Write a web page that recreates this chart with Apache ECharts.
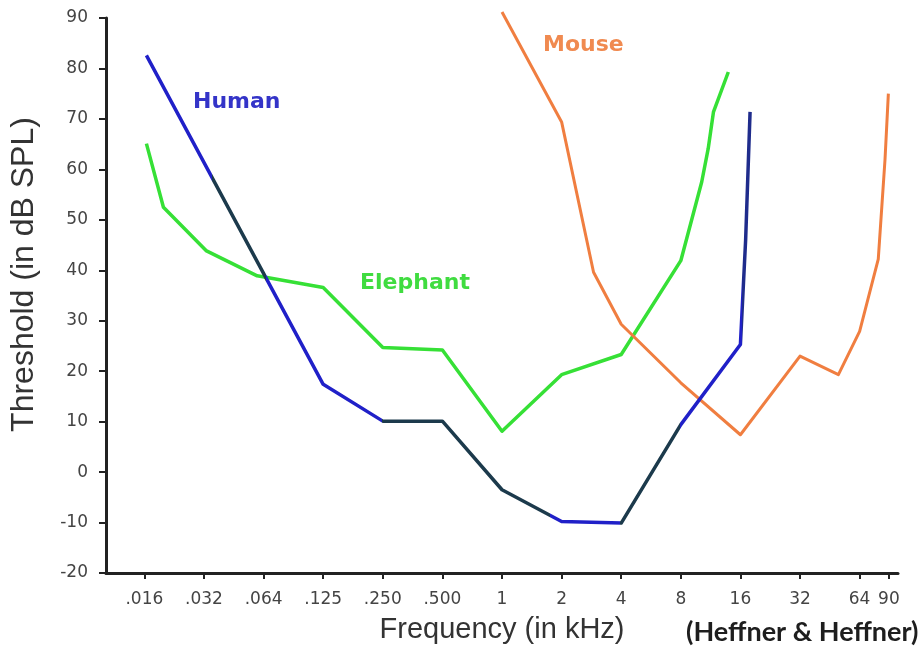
<!DOCTYPE html>
<html>
<head>
<meta charset="utf-8">
<script src="https://cdn.jsdelivr.net/npm/echarts@6/dist/echarts.min.js"></script>
<style>
  html, body { margin: 0; padding: 0; background: #fff; }
  #chart { width: 924px; height: 655px; }
</style>
</head>
<body>
<div id="chart"></div>
<script>
// frequency ticks (kHz) and their printed labels
const tickFreqs = [1 / 64, 1 / 32, 1 / 16, 1 / 8, 1 / 4, 1 / 2, 1, 2, 4, 8, 16, 32, 64, 90];
const tickLabels = ['.016', '.032', '.064', '.125', '.250', '.500', '1', '2', '4', '8', '16', '32', '64', '90'];

// audiograms: frequency in kHz, threshold in dB SPL
const humanFreq = [0.016, 0.125, 0.25, 0.5, 1, 2, 4, 8, 16, 17, 17.9];
const humanDb = [82.6, 17.4, 10.1, 10.1, -3.5, -9.8, -10.1, 9.4, 25.3, 46, 71.4];

const elephantFreq = [0.016, 0.0195, 0.032, 0.058, 0.125, 0.25, 0.5, 1, 2, 4, 8, 10.2, 11, 11.7, 13.9];
const elephantDb = [65.1, 52.5, 43.9, 38.9, 36.6, 24.7, 24.2, 8.1, 19.3, 23.3, 41.9, 57.5, 64.1, 71.4, 79.3];

const mouseFreq = [1, 2, 2.9, 4, 8, 16, 32, 50, 64, 79.5, 86, 89.4];
const mouseDb = [91.2, 69.4, 39.6, 29.3, 17.7, 7.4, 23, 19.3, 27.9, 42.2, 62, 75];

const toPoints = (freqs, dbs) => freqs.map((f, i) => [Math.log2(f), dbs[i]]);
const tickPos = tickFreqs.map((f) => Math.log2(f));

const axisColor = '#222';
const textColor = '#444';
const blue = '#2020c8';
const blueDark = '#1c3a4c';
const blueNavy = '#1f2c8c';
const green = '#36e036';
const orange = '#f07e40';

const chart = echarts.init(document.getElementById('chart'));

const option = {
  backgroundColor: '#fff',
  animation: false,
  grid: {
    left: 106,
    right: 26,
    top: 18,
    bottom: 82,
  },
  xAxis: {
    type: 'value',
    min: Math.log2(0.01),
    max: Math.log2(100),
    name: 'Frequency (in kHz)',
    nameLocation: 'middle',
    nameGap: 42,
    nameTextStyle: {
      color: '#333',
      fontSize: 29,
      fontFamily: 'Liberation Sans',
    },
    axisLine: {
      show: true,
      onZero: false,
      lineStyle: { color: axisColor, width: 3 },
    },
    axisTick: {
      show: true,
      customValues: tickPos,
      length: 6,
      lineStyle: { color: axisColor, width: 2 },
    },
    axisLabel: {
      customValues: tickPos,
      margin: 18,
      color: textColor,
      fontSize: 17,
      fontFamily: 'DejaVu Sans',
      formatter: (v) => {
        const i = tickPos.findIndex((p) => Math.abs(p - v) < 1e-6);
        return i >= 0 ? tickLabels[i] : '';
      },
    },
    splitLine: { show: false },
  },
  yAxis: {
    type: 'value',
    min: -20,
    max: 90,
    interval: 10,
    name: 'Threshold (in dB SPL)',
    nameLocation: 'middle',
    nameRotate: 90,
    nameGap: 66,
    nameTextStyle: {
      color: '#333',
      fontSize: 32,
      fontFamily: 'Liberation Sans',
      padding: [0, 0, 0, 42],
    },
    axisLine: {
      show: true,
      onZero: false,
      lineStyle: { color: axisColor, width: 3 },
    },
    axisTick: {
      show: true,
      length: 7,
      lineStyle: { color: axisColor, width: 2 },
    },
    axisLabel: {
      margin: 18,
      color: textColor,
      fontSize: 17,
      fontFamily: 'DejaVu Sans',
    },
    splitLine: { show: false },
  },
  visualMap: {
    type: 'piecewise',
    show: false,
    seriesIndex: 0,
    dimension: 0,
    pieces: [
      { lt: -4.87, color: blue },
      { gte: -4.87, lt: -3.96, color: blueDark },
      { gte: -3.96, lt: -2.01, color: blue },
      { gte: -2.01, lt: 0.8, color: blueDark },
      { gte: 0.8, lt: 1.98, color: blue },
      { gte: 1.98, lt: 2.99, color: blueDark },
      { gte: 2.99, lt: 4.02, color: blue },
      { gte: 4.02, color: blueNavy },
    ],
  },
  series: [
    {
      name: 'Human',
      type: 'line',
      symbol: 'none',
      lineStyle: { width: 3.5, join: 'round' },
      data: toPoints(humanFreq, humanDb),
      z: 3,
    },
    {
      name: 'Elephant',
      type: 'line',
      symbol: 'none',
      lineStyle: { width: 3.5, color: green, join: 'round' },
      data: toPoints(elephantFreq, elephantDb),
      z: 2,
    },
    {
      name: 'Mouse',
      type: 'line',
      symbol: 'none',
      clip: false,
      lineStyle: { width: 3, color: orange, join: 'round' },
      data: toPoints(mouseFreq, mouseDb),
      z: 2,
    },
  ],
  graphic: [
    {
      type: 'text',
      left: 193,
      top: 91,
      style: {
        text: 'Human',
        fill: '#3434c8',
        font: 'bold 22px "DejaVu Sans"',
      },
    },
    {
      type: 'text',
      left: 360,
      top: 272,
      style: {
        text: 'Elephant',
        fill: '#40dc40',
        font: 'bold 22px "DejaVu Sans"',
      },
    },
    {
      type: 'text',
      left: 543,
      top: 34,
      style: {
        text: 'Mouse',
        fill: '#f08a50',
        font: 'bold 22px "DejaVu Sans"',
      },
    },
    {
      type: 'text',
      left: 686,
      top: 619,
      style: {
        text: '(Heffner & Heffner)',
        fill: '#1e1e1e',
        font: 'bold 27px Lato',
      },
    },
  ],
};

chart.setOption(option);
</script>
</body>
</html>
